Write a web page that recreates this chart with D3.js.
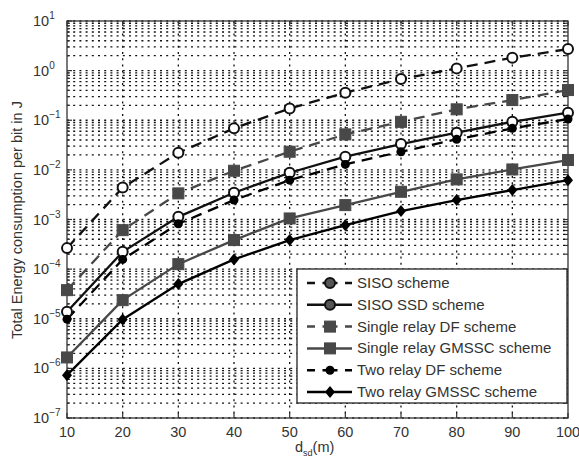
<!DOCTYPE html>
<html><head><meta charset="utf-8">
<script src="https://cdn.jsdelivr.net/npm/d3@7"></script>
<style>body{margin:0;background:#fff}svg{display:block}text{font-family:"Liberation Sans",Arial,Helvetica,sans-serif}</style>
</head><body>
<script>
const distances = [10,20,30,40,50,60,70,80,90,100];
const sisoScheme      = [2.65e-4,4.4e-3,0.0221,0.0686,0.173,0.359,0.677,1.11,1.82,2.72];
const sisoSSD         = [1.38e-5,2.23e-4,1.13e-3,3.46e-3,8.75e-3,0.0184,0.0331,0.056,0.093,0.142];
const singleRelayDF   = [3.77e-5,6.1e-4,3.36e-3,9.6e-3,0.0232,0.0519,0.093,0.166,0.255,0.406];
const singleRelayGM   = [1.66e-6,2.37e-5,1.26e-4,3.85e-4,1.05e-3,1.95e-3,3.62e-3,6.43e-3,0.0102,0.0158];
const twoRelayDF      = [9.8e-6,1.57e-4,8.2e-4,2.46e-3,6.2e-3,0.0129,0.0232,0.0412,0.0686,0.106];
const twoRelayGM      = [7.3e-7,9.7e-6,4.99e-5,1.57e-4,3.85e-4,7.7e-4,1.48e-3,2.46e-3,3.92e-3,6.2e-3];
const seriesNames = ["SISO scheme","SISO SSD scheme","Single relay DF scheme","Single relay GMSSC scheme","Two relay DF scheme","Two relay GMSSC scheme"];
const xTicks = [10,20,30,40,50,60,70,80,90,100];
const yExponents = [1,0,-1,-2,-3,-4,-5,-6,-7];

const series = [
  {name:seriesNames[0], values:sisoScheme,    color:"#111", dash:"11,7", marker:"circle"},
  {name:seriesNames[1], values:sisoSSD,       color:"#111", dash:null,  marker:"circle"},
  {name:seriesNames[2], values:singleRelayDF, color:"#484848", dash:"11,7", marker:"square"},
  {name:seriesNames[3], values:singleRelayGM, color:"#484848", dash:null,  marker:"square"},
  {name:seriesNames[4], values:twoRelayDF,    color:"#000", dash:"11,7", marker:"dot"},
  {name:seriesNames[5], values:twoRelayGM,    color:"#000", dash:null,  marker:"diamond"}
];

const W=579,H=462, L=67,R=568,T=21,B=418;
const svg=d3.select("body").append("svg").attr("width",W).attr("height",H);
const x=d3.scaleLinear().domain([10,100]).range([L,R]);
const y=d3.scaleLog().domain([1e-7,10]).range([B,T]);

// grid
const g=svg.append("g");
const minor=[];
for(let e=-7;e<1;e++){for(let m=1;m<10;m++){minor.push(m*Math.pow(10,e));}}
minor.push(10);
g.selectAll("line.hy").data(minor).enter().append("line")
 .attr("x1",L).attr("x2",R).attr("y1",d=>y(d)).attr("y2",d=>y(d))
 .attr("stroke","#111").attr("stroke-width",1.3).attr("stroke-dasharray","2,4.2");
g.selectAll("line.vx").data(xTicks.slice(1,-1)).enter().append("line")
 .attr("y1",T).attr("y2",B).attr("x1",d=>x(d)).attr("x2",d=>x(d))
 .attr("stroke","#111").attr("stroke-width",1.3).attr("stroke-dasharray","2,4.2");

// axes ticks (inside)
const tk=svg.append("g").attr("stroke","#333").attr("stroke-width",1.2);
minor.forEach(v=>{
  const len = (Math.abs(Math.log10(v)-Math.round(Math.log10(v)))<1e-9)?5:3;
  tk.append("line").attr("x1",L).attr("x2",L+len).attr("y1",y(v)).attr("y2",y(v));
  tk.append("line").attr("x1",R).attr("x2",R-len).attr("y1",y(v)).attr("y2",y(v));
});
xTicks.forEach(v=>{
  tk.append("line").attr("x1",x(v)).attr("x2",x(v)).attr("y1",B).attr("y2",B-5);
  tk.append("line").attr("x1",x(v)).attr("x2",x(v)).attr("y1",T).attr("y2",T+5);
});
svg.append("rect").attr("x",L).attr("y",T).attr("width",R-L).attr("height",B-T)
 .attr("fill","none").attr("stroke","#333").attr("stroke-width",1.3);

// tick labels
svg.selectAll("text.xt").data(xTicks).enter().append("text")
 .attr("x",d=>x(d)).attr("y",437).attr("text-anchor","middle")
 .attr("font-size",14.5).attr("fill","#333").text(d=>d);
yExponents.forEach(e=>{
  const t=svg.append("text").attr("x",33).attr("y",y(Math.pow(10,e))+5).attr("font-size",14.5).attr("fill","#333");
  t.append("tspan").text("10");
  t.append("tspan").attr("dy",-7).attr("font-size",10).text(e<0?"\u2212"+(-e):String(e));
});
svg.append("text").attr("transform","translate(22,220) rotate(-90)").attr("text-anchor","middle")
 .attr("font-size",14.5).attr("fill","#333").text("Total Energy consumption per bit in J");
const xl=svg.append("text").attr("x",295).attr("y",452).attr("font-size",14.5).attr("fill","#333");
xl.append("tspan").text("d");
xl.append("tspan").attr("dy",4).attr("font-size",9).text("sd");
xl.append("tspan").attr("dy",-4).text("(m)");

// markers
function drawMarker(sel,type,cx,cy,color,legend){
  if(type==="circle"){
    sel.append("circle").attr("cx",cx).attr("cy",cy).attr("r",5)
      .attr("fill",legend?"#555":"#fff").attr("stroke",color).attr("stroke-width",2);
  } else if(type==="square"){
    sel.append("rect").attr("x",cx-5.5).attr("y",cy-5.5).attr("width",11).attr("height",11)
      .attr("fill",color).attr("stroke",color);
  } else if(type==="dot"){
    sel.append("circle").attr("cx",cx).attr("cy",cy).attr("r",4.5).attr("fill",color);
  } else {
    sel.append("path").attr("d",`M${cx},${cy-6}L${cx+5},${cy}L${cx},${cy+6}L${cx-5},${cy}Z`).attr("fill",color);
  }
}

const line=d3.line().x((d,i)=>x(distances[i])).y(d=>y(d));
series.forEach(s=>{
  svg.append("path").attr("d",line(s.values)).attr("fill","none").attr("stroke",s.color)
    .attr("stroke-width",2.3).attr("stroke-dasharray",s.dash);
});
series.forEach(s=>{
  const mg=svg.append("g");
  s.values.forEach((v,i)=>drawMarker(mg,s.marker,x(distances[i]),y(v),s.color,false));
});

// legend
const lx=297, ly=269, lw=270, lh=134;
svg.append("rect").attr("x",lx).attr("y",ly).attr("width",lw).attr("height",lh)
 .attr("fill","#fff").attr("stroke","#222").attr("stroke-width",1.3);
series.forEach((s,i)=>{
  const cy=283+i*21.8;
  const lg=svg.append("g");
  lg.append("line").attr("x1",307).attr("x2",352).attr("y1",cy).attr("y2",cy)
    .attr("stroke",s.color).attr("stroke-width",2.5).attr("stroke-dasharray",s.dash?"8,7.5,15,7.5":null);
  drawMarker(lg,s.marker,330,cy,s.color,true);
  lg.append("text").attr("x",357).attr("y",cy+5).attr("font-size",15).attr("fill","#333").text(s.name);
});
</script>
</body></html>
